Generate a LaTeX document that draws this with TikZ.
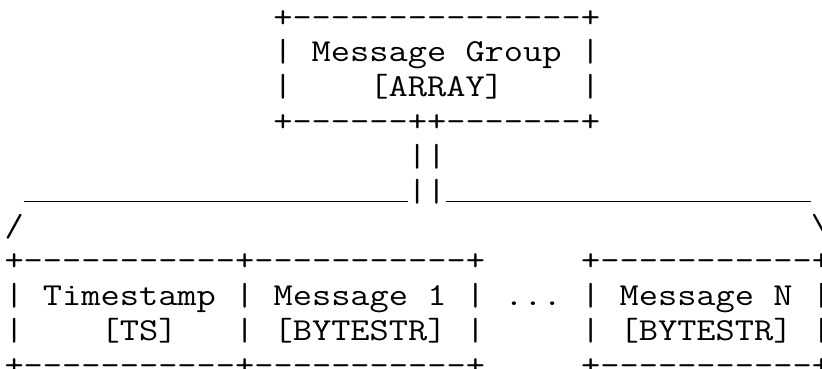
\documentclass[tikz,border=0pt]{standalone}
\usepackage{tikz}
\usetikzlibrary{positioning}
\tikzstyle{asciirow}=[anchor=base west, inner sep=0pt, outer sep=0pt,
font=\ttfamily\fontsize{32pt}{34.8pt}\selectfont, text=black,
xscale=1.1664, transform shape]
\tikzstyle{branchline}=[draw=black, line width=1.4pt, yshift=-0.8pt]

\begin{document}
\begin{tikzpicture}
    \useasboundingbox (0,0) rectangle (822pt,-369pt);
    \begin{scope}[shift={(4.5pt,-27.2pt)}, x=19.2pt, y=-34.8pt]
        \node (groupTop)[asciirow] at (14,0) {+---------------+};
        \node (groupName)[asciirow] at (14,1) {|\ Message\ Group\ |};
        \node (groupType)[asciirow] at (14,2) {|\ \ \ \ [ARRAY]\ \ \ \ |};
        \node (groupBottom)[asciirow] at (14,3) {+------++-------+};
        \node (link)[asciirow] at (21,4) {||};
        \node (fork)[asciirow] at (21,5) {||};
        \coordinate (branchStart) at (1,5);
        \coordinate (branchEnd) at (42,5);
        \draw[branchline] (branchStart) -- (fork.base west);
        \draw[branchline] (fork.base east) -- (branchEnd);
        \node (slopeLeft)[asciirow] at (0,6) {/};
        \node (slopeRight)[asciirow] at (42,6) {\textbackslash};
        \node (itemsTop)[asciirow] at (0,7)
            {+-----------+-----------+\ \ \ \ \ +-----------+};
        \node (itemsName)[asciirow] at (0,8)
            {|\ Timestamp\ |\ Message\ 1\ |\ ...\ |\ Message\ N\ |};
        \node (itemsType)[asciirow] at (0,9)
            {|\ \ \ \ [TS]\ \ \ |\ [BYTESTR]\ |\ \ \ \ \ |\ [BYTESTR]\ |};
        \node (itemsBottom)[asciirow] at (0,10)
            {+-----------+-----------+\ \ \ \ \ +-----------+};
    \end{scope}
\end{tikzpicture}
\end{document}
